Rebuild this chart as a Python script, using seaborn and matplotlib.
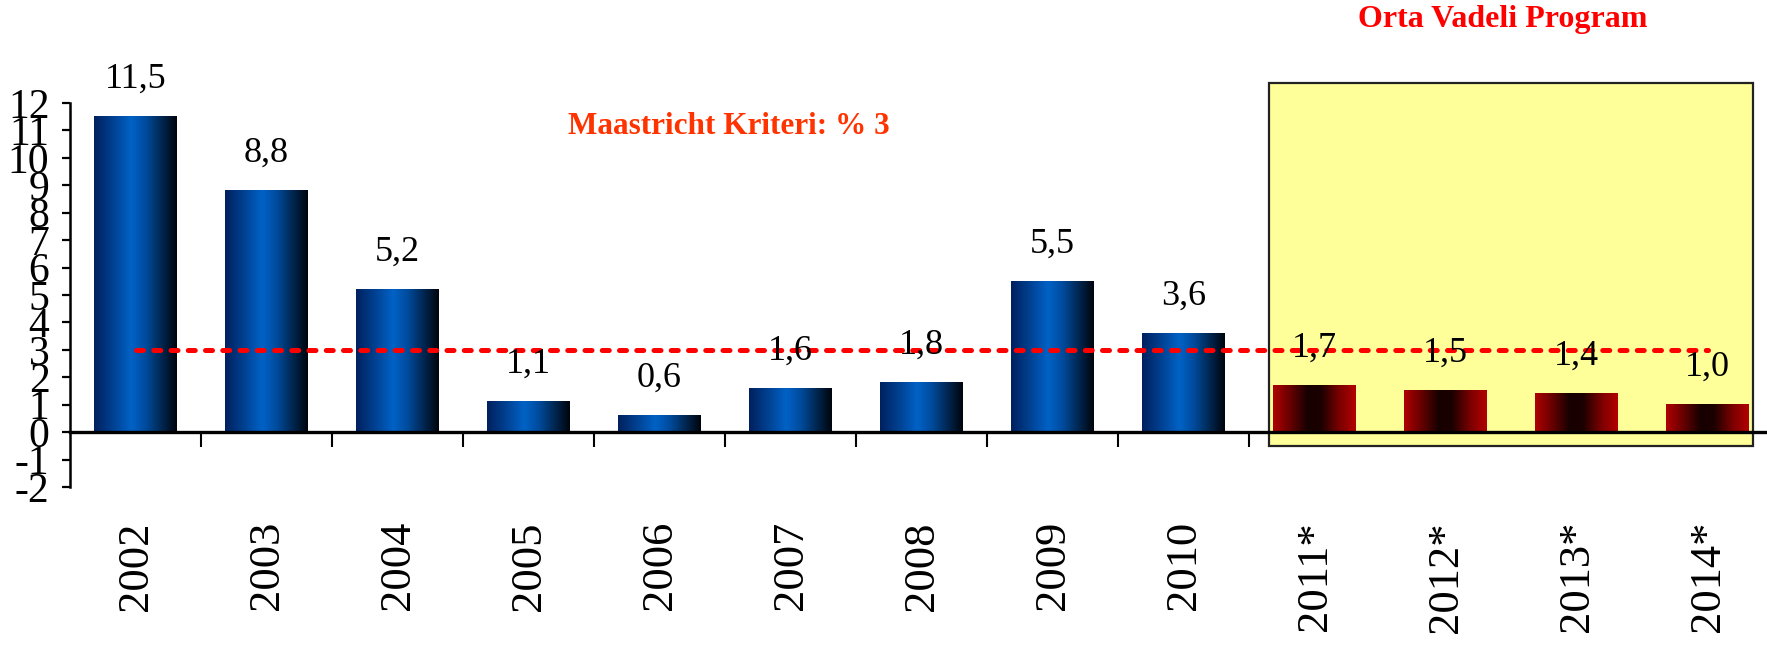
import numpy as np
import pandas as pd
import matplotlib
matplotlib.use("Agg")
import matplotlib.pyplot as plt
import seaborn as sns
from matplotlib.colors import LinearSegmentedColormap
from matplotlib.patches import Rectangle

# ---- data ----
years = ["2002", "2003", "2004", "2005", "2006", "2007", "2008", "2009", "2010",
         "2011*", "2012*", "2013*", "2014*"]
deficit = [11.5, 8.8, 5.2, 1.1, 0.6, 1.6, 1.8, 5.5, 3.6, 1.7, 1.5, 1.4, 1.0]
y_ticks = list(range(-2, 13))
maastricht_limit = 3
program_title = "Orta Vadeli Program"
criterion_title = "Maastricht Kriteri: % 3"

# ---- style ----
sns.set_theme(style="white")
plt.rcParams["font.family"] = ["Liberation Serif", "DejaVu Serif"]
plt.rcParams["axes.unicode_minus"] = False

W, H = 1767, 645
fig = plt.figure(figsize=(W / 100, H / 100), dpi=100)
ax = fig.add_axes([70 / W, (H - 487) / H, 1703 / W, 384 / H])

df = pd.DataFrame({"year": years, "value": deficit})
df["forecast"] = df["year"].str.endswith("*")

sns.barplot(data=df, x="year", y="value", width=0.63, color="#0050a8",
            linewidth=0, ax=ax, zorder=3)

blue_cmap = LinearSegmentedColormap.from_list(
    "blue", [(0.0, "#00205e"), (0.18, "#003a86"), (0.45, "#0062c6"),
             (0.62, "#004c9e"), (0.82, "#002650"), (1.0, "#00040c")])
red_cmap = LinearSegmentedColormap.from_list(
    "red", [(0.0, "#b00000"), (0.2, "#6a0000"), (0.42, "#160000"),
            (0.58, "#1c0000"), (0.8, "#7a0000"), (1.0, "#b40000")])

grad = np.linspace(0, 1, 256).reshape(1, -1)
for patch, fc in zip(ax.patches, df["forecast"]):
    x0, y0 = patch.get_x(), patch.get_y()
    w, h = patch.get_width(), patch.get_height()
    ax.imshow(grad, cmap=red_cmap if fc else blue_cmap,
              extent=(x0, x0 + w, y0, y0 + h), aspect="auto",
              interpolation="bilinear", zorder=3)
    patch.set_visible(False)

# highlighted program box
first_fc = int(np.argmax(df["forecast"].values))
last_idx = len(years) - 1
box = Rectangle((first_fc - 0.35, -0.51), (last_idx - first_fc) + 0.7, 13.24,
                facecolor="#FFFF99", edgecolor="#222222", linewidth=1.6,
                zorder=1, clip_on=False)
ax.add_patch(box)

# Maastricht criterion line
ax.plot([0, last_idx], [maastricht_limit, maastricht_limit], color="#FF0000",
        linewidth=3.6, linestyle=(0, (1.4, 2.05)), dash_capstyle="round",
        zorder=4)

# value labels
for i, v in enumerate(deficit):
    ax.annotate(f"{v:.1f}".replace(".", ","), (i, v), xytext=(0, 27),
                textcoords="offset points", ha="center", va="center",
                fontsize=26, color="black", annotation_clip=False, zorder=5)

# axes
ax.set_xlim(-0.5, len(years) - 0.5)
ax.set_ylim(-2, 12)
ax.set_yticks(y_ticks)
ax.set_yticklabels([str(t) for t in y_ticks])
ax.tick_params(axis="y", left=True, direction="out", length=5.8, width=1.6,
               pad=9, labelsize=30, colors="black")

ax.set_xticks(np.arange(len(years) - 1) + 0.5)
ax.set_xticklabels([""] * (len(years) - 1))
ax.set_xticks(np.arange(len(years)), minor=True)
ax.set_xticklabels(years, minor=True)
ax.tick_params(axis="x", which="major", bottom=True, direction="out",
               length=10.8, width=1.5, color="black")
ax.tick_params(axis="x", which="minor", bottom=True, length=0, pad=64,
               labelsize=32, labelrotation=90, labelcolor="black")
ax.set_xlabel("")
ax.set_ylabel("")

for s in ["top", "right"]:
    ax.spines[s].set_visible(False)
ax.spines["bottom"].set_position(("data", 0))
ax.spines["bottom"].set_linewidth(2.4)
ax.spines["bottom"].set_color("black")
ax.spines["bottom"].set_zorder(3.5)
ax.spines["left"].set_linewidth(1.8)
ax.spines["left"].set_color("black")

fig.text(1503 / W, 1 - 19 / H, program_title, ha="center", va="center",
         color="#FF0000", fontsize=23, fontweight="bold")
fig.text(729 / W, 1 - 127 / H, criterion_title, ha="center", va="center",
         color="#FF3300", fontsize=22.5, fontweight="bold")

fig.savefig("out.png", dpi=100)
